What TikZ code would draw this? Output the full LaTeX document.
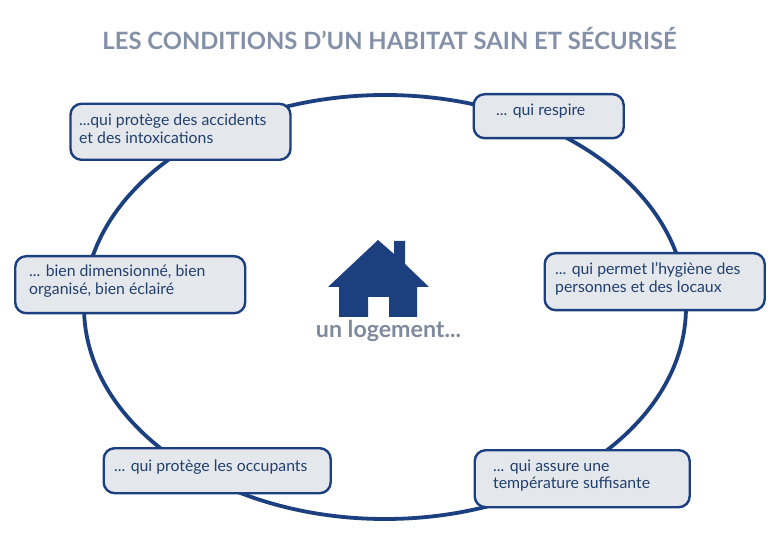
\documentclass[tikz,border=0pt]{standalone}
\usepackage{fontspec}
\setmainfont{Lato}
\definecolor{navy}{HTML}{1B3F7F}
\definecolor{boxfill}{HTML}{E4E7EB}
\definecolor{greytext}{HTML}{8490A8}
\definecolor{labeltext}{HTML}{7F8A9C}
\definecolor{bodytext}{HTML}{22406F}
\tikzset{x=1pt,y=-1pt,
 card/.style={draw=navy,line width=2.4pt,fill=boxfill,rounded corners=11pt,inner sep=0pt,anchor=north west},
 cardtext/.style={anchor=west,inner sep=0pt,align=left,text=bodytext,font=\fontsize{15.8}{17.6}\selectfont}}
\begin{document}
\begin{tikzpicture}
\useasboundingbox (0,0) rectangle (782,553);
\fill[white] (0,0) rectangle (782,553);
\draw[navy,line width=3.8pt] (385,307) ellipse [x radius=301,y radius=212];
\node (title) [inner sep=0pt,font=\bfseries\fontsize{23.8}{28}\selectfont,text=greytext] at (389.5,39) {LES CONDITIONS D’UN HABITAT SAIN ET SÉCURISÉ};
\node (c1) [card,minimum width=220pt,minimum height=56pt] at (69.3,102.6) {};
\node (c2) [card,minimum width=150pt,minimum height=44pt] at (472.5,93) {};
\node (c3) [card,minimum width=230pt,minimum height=57pt] at (14,255) {};
\node (c4) [card,minimum width=220pt,minimum height=57pt] at (543.5,252) {};
\node (c5) [card,minimum width=227pt,minimum height=45pt] at (102.5,447) {};
\node (c6) [card,minimum width=215pt,minimum height=57pt] at (473.5,449) {};
\node (t1) [cardtext] at (79,129) {...qui protège des accidents\\et des intoxications};
\node (t2) [cardtext] at (496,111.5) {... qui respire};
\node (t3) [cardtext] at (29,281) {... bien dimensionné, bien\\organisé, bien éclairé};
\node (t4) [cardtext] at (555,279) {... qui permet l’hygiène des\\personnes et des locaux};
\node (t5) [cardtext] at (114,467) {... qui protège les occupants};
\node (t6) [cardtext] at (493,475.5) {... qui assure une\\température suffisante};
\fill[navy] (378,240) -- (394,254) -- (394,241) -- (405,241) -- (405,264) -- (429,287) -- (417,287) -- (417,317) -- (389,317) -- (389,297) -- (368,297) -- (368,317) -- (339,317) -- (339,287) -- (328,287) -- cycle;
\node (house) [inner sep=0pt,font=\bfseries\fontsize{23.2}{26}\selectfont,text=labeltext] at (388.5,331) {un logement...};
\end{tikzpicture}
\end{document}
